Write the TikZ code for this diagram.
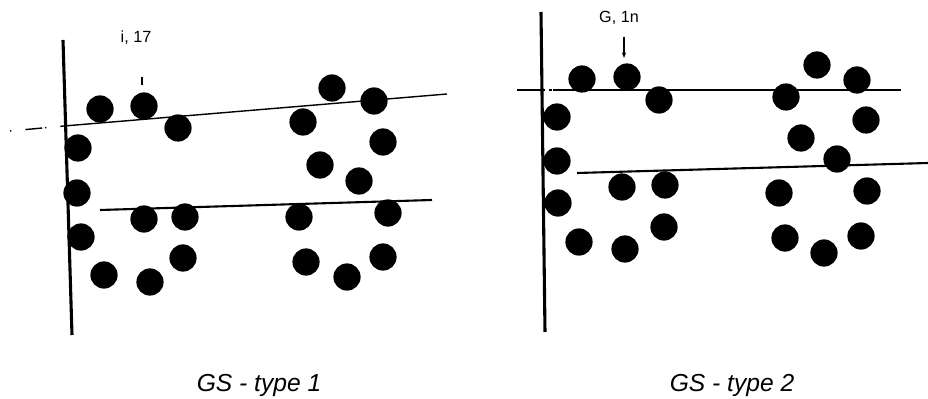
\documentclass[tikz,border=0pt]{standalone}
\usepackage{fontspec}
\setmainfont{Liberation Sans}
\usetikzlibrary{arrows.meta}
\tikzset{
  bead/.style={circle, fill=black, inner sep=0pt, minimum size=0.68cm},
  wall/.style={line width=2.2pt},
  level/.style={line width=1.5pt},
  thinlevel/.style={line width=1pt},
  caption/.style={font=\fontsize{17.5}{20}\selectfont\itshape},
  tag/.style={font=\fontsize{11.5}{12}\selectfont}
}

\begin{document}
\begin{tikzpicture}[x=0.025cm, y=-0.025cm]
  \useasboundingbox (0,0) rectangle (928,399);

  % left panel: GS - type 1
  \coordinate (wallAtop) at (63,40);
  \coordinate (wallAbot) at (72,335);
  \draw[wall] (wallAtop) -- (wallAbot);
  \coordinate (upAstart) at (10,131);
  \coordinate (upAwall) at (64,126);
  \coordinate (upAend) at (447,94);
  \draw[thinlevel, dash pattern=on 1pt off 10pt on 12pt off 2pt] (upAstart) -- (upAwall);
  \draw[thinlevel] (upAwall) -- (upAend);
  \coordinate (lowAstart) at (100,210);
  \coordinate (lowAend) at (432,200);
  \draw[level] (lowAstart) -- (lowAend);
  \foreach \name/\px/\py in {a1/100/109, a2/144/106, a3/178/128, a4/78/148,
      a5/77/193, a6/81/237, a7/104/275, a8/150/282, a9/183/258,
      a10/144/219, a11/185/217, a12/332/88, a13/374/101, a14/303/122,
      a15/383/142, a16/320/165, a17/359/181, a18/299/217, a19/388/213,
      a20/306/262, a21/347/277, a22/383/257}
    \node[bead] (\name) at (\px,\py) {};
  \coordinate (tickAtop) at (142,77);
  \coordinate (tickAbot) at (142,85);
  \draw[line width=1.8pt] (tickAtop) -- (tickAbot);
  \node[tag] (markA) at (136,38) {i, 17};
  \node[caption] (capA) at (259,385) {GS - type 1};

  % right panel: GS - type 2
  \coordinate (wallBtop) at (541,12);
  \coordinate (wallBbot) at (545,332);
  \draw[wall] (wallBtop) -- (wallBbot);
  \coordinate (upBstart) at (517,90);
  \coordinate (upBwall) at (553,90);
  \coordinate (upBend) at (901,90);
  \draw[thinlevel, dash pattern=on 20pt off 3pt on 2pt off 3pt] (upBstart) -- (upBwall);
  \draw[thinlevel] (upBwall) -- (upBend);
  \coordinate (lowBstart) at (577,173);
  \coordinate (lowBend) at (928,163);
  \draw[level] (lowBstart) -- (lowBend);
  \foreach \name/\px/\py in {b1/582/79, b2/627/77, b3/659/100, b4/557/117,
      b5/557/161, b6/558/203, b7/579/242, b8/625/249, b9/664/227,
      b10/622/187, b11/665/185, b12/817/65, b13/857/80, b14/786/97,
      b15/866/120, b16/801/138, b17/837/159, b18/779/193, b19/867/191,
      b20/785/238, b21/824/253, b22/861/236}
    \node[bead] (\name) at (\px,\py) {};
  \node[tag] (markB) at (619,18) {G, 1n};
  \coordinate (pointB) at (624,58);
  \draw[-{Stealth[length=4pt]}, line width=0.8pt] (markB.south -| pointB) ++(0,7) -- (pointB);
  \node[caption] (capB) at (732,385) {GS - type 2};
\end{tikzpicture}
\end{document}
